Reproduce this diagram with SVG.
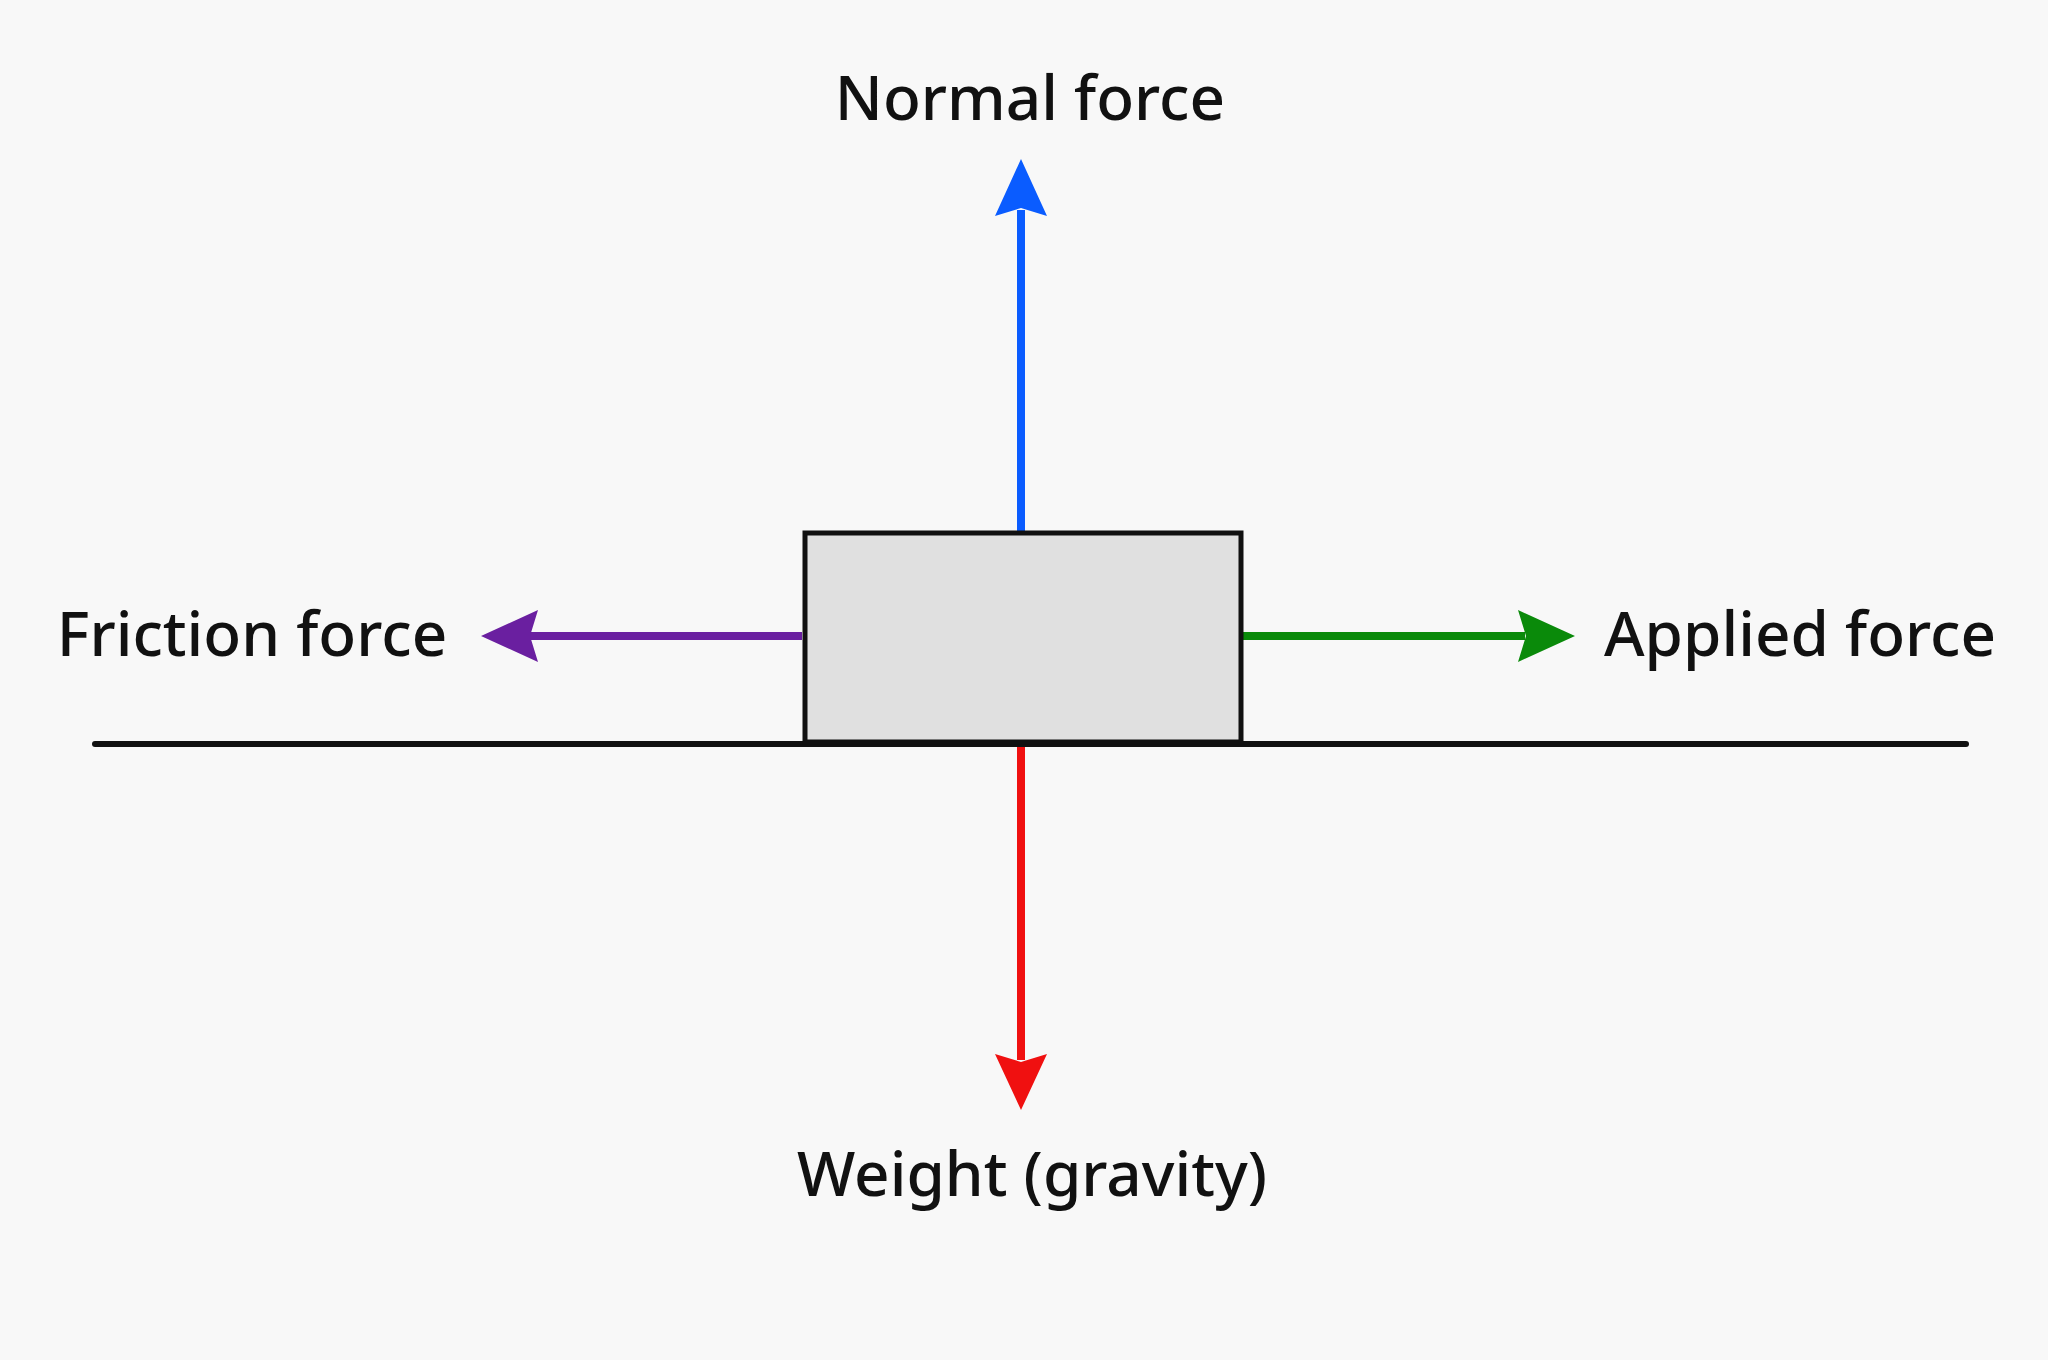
<svg xmlns="http://www.w3.org/2000/svg" width="2048" height="1360" viewBox="0 0 2048 1360">
<style>
text{font-family:"Noto Sans","DejaVu Sans",sans-serif;font-size:62px;font-weight:500;fill:#111}
.a{stroke-width:8;fill:none}
</style>
<rect width="2048" height="1360" fill="#f8f8f8"/>
<g id="connectors">
<line x1="1021" y1="533" x2="1021" y2="210" class="a" stroke="#0a5cff"/>
<polygon points="1021,159 995,216 1021,208 1047,216" fill="#0a5cff"/>
<line x1="1021" y1="744" x2="1021" y2="1060" class="a" stroke="#f01010"/>
<polygon points="1021,1110 995,1054 1021,1062 1047,1054" fill="#f01010"/>
<line x1="802" y1="636" x2="530" y2="636" class="a" stroke="#6a1fa0"/>
<polygon points="481,636 538,610 530,636 538,662" fill="#6a1fa0"/>
<line x1="1243" y1="636" x2="1525" y2="636" class="a" stroke="#0a8a0a"/>
<polygon points="1575,636 1518,610 1526,636 1518,662" fill="#0a8a0a"/>
</g>
<g id="ground"><line x1="95" y1="744" x2="1966" y2="744" stroke="#111" stroke-width="6" stroke-linecap="round"/></g>
<g id="block"><rect x="805" y="533" width="436" height="209" fill="#e0e0e0" stroke="#111" stroke-width="5"/></g>
<g id="normal"><text x="1030" y="120" text-anchor="middle">Normal force</text></g>
<g id="friction"><text x="252" y="656" text-anchor="middle">Friction force</text></g>
<g id="applied"><text x="1800" y="656" text-anchor="middle">Applied force</text></g>
<g id="weight"><text x="1032" y="1196" text-anchor="middle">Weight (gravity)</text></g>
</svg>
